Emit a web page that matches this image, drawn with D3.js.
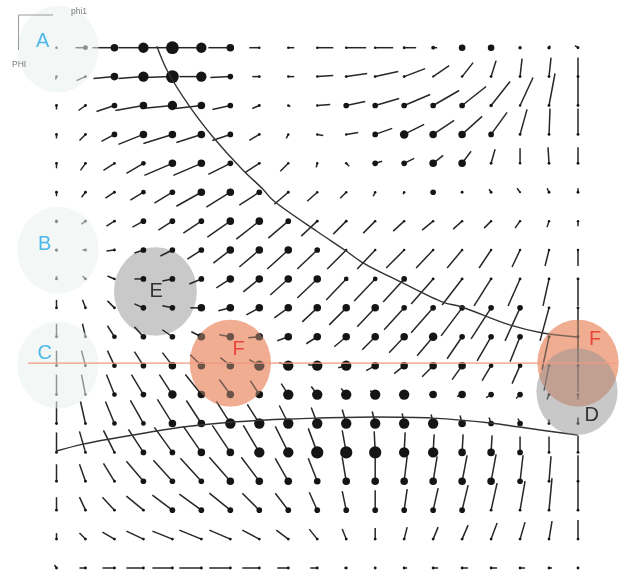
<!DOCTYPE html>
<html>
<head>
<meta charset="utf-8">
<script src="https://cdn.jsdelivr.net/npm/d3@7/dist/d3.min.js"></script>
<style>html,body{margin:0;padding:0;background:#fff}svg{display:block;filter:blur(0.4px)}text{font-family:"Liberation Sans",Arial,sans-serif}</style>
</head>
<body>
<div id="chart"></div>
<script>
// Grid axes in degrees
const phiTicks = d3.range(-180, 181, 20);
const psiTicks = d3.range(-180, 181, 20);

// Vector x components, one list per row
const uRows = [
[0,-10,-22,-25,-27,-25,-22,-10,6,16,20,18,12,4,0,0,0,1,-3],
[-1,-9,-21,-25,-28,-22,-20,-7,6,16,21,23,21,16,11,5,2,2,0],
[0,-7,-18,-28,-31,-26,-18,-7,2,13,19,24,26,26,24,19,13,6,0],
[0,-6,-13,-25,-29,-25,-18,-10,-2,6,12,17,20,21,20,16,7,1,0],
[0,-5,-11,-17,-28,-28,-22,-14,-8,-1,3,7,10,10,9,4,0,-1,0],
[0,-4,-9,-13,-18,-25,-24,-20,-14,-10,-6,-2,-1,0,0,-2,-3,-2,0],
[0,-4,-8,-11,-14,-18,-23,-23,-20,-16,-13,-12,-11,-11,-9,-7,-5,-2,0],
[0,-3,-8,-9,-12,-14,-17,-20,-21,-20,-19,-18,-18,-17,-15,-12,-8,-4,0],
[0,-3,-7,-9,-10,-12,-14,-16,-18,-20,-20,-21,-21,-22,-20,-17,-12,-6,0],
[0,-3,-7,-9,-10,-11,-12,-13,-14,-15,-17,-18,-20,-22,-21,-20,-15,-9,0],
[0,-3,-7,-9,-10,-10,-11,-11,-11,-11,-12,-13,-15,-16,-15,-14,-10,-7,0],
[0,-4,-7,-9,-10,-11,-10,-10,-9,-9,-8,-9,-10,-11,-10,-9,-8,-5,0],
[0,-4,-8,-12,-13,-16,-11,-9,-7,-6,-5,-5,-1,-4,-5,-5,-4,-2,0],
[0,-5,-9,-13,-15,-15,-14,-12,-9,-6,-4,-3,-2,-2,-2,-2,-2,0,0],
[0,-6,-11,-15,-18,-18,-18,-16,-13,-9,-4,-1,1,1,1,1,0,0,0],
[0,-6,-11,-17,-19,-21,-21,-18,-13,-9,-4,0,3,4,5,5,3,2,0],
[0,-6,-12,-17,-20,-22,-21,-17,-13,-8,-4,0,3,5,6,6,5,3,0],
[0,-6,-12,-17,-20,-22,-21,-17,-12,-8,-4,0,3,5,6,6,5,3,0],
[-2,-6,-12,-17,-20,-22,-21,-17,-11,-7,-2,0,3,5,6,6,5,3,0]
];

// Vector y components, one list per row
const vRows = [
[0,0,0,0,0,0,0,0,0,0,0,0,0,0,0,0,0,-2,-2],
[3,4,2,2,1,0,1,0,0,-1,-3,-5,-8,-11,-14,-16,-18,-19,-19],
[4,5,6,5,3,3,4,3,1,-1,-4,-7,-11,-15,-19,-24,-28,-32,-29],
[4,6,7,10,9,8,6,6,4,1,-2,-6,-10,-14,-18,-22,-25,-26,-26],
[5,7,7,10,12,12,11,9,8,4,3,-2,-5,-8,-12,-14,-15,-16,-16],
[4,5,6,8,11,14,15,13,12,9,6,4,2,0,0,-3,-4,-4,-4],
[2,3,5,6,9,12,16,18,17,15,13,12,10,9,8,7,7,6,5],
[0,0,1,3,6,9,13,17,19,19,19,19,18,18,18,18,17,16,16],
[-3,-3,-3,0,2,5,9,13,16,19,21,22,23,25,26,27,27,27,27],
[-8,-8,-7,-4,-2,0,3,7,10,14,17,19,22,25,28,31,33,33,29],
[-13,-13,-11,-10,-7,-5,-2,1,4,7,10,13,16,19,22,24,25,33,28],
[-15,-15,-15,-14,-13,-11,-8,-6,-3,-1,2,5,8,11,14,15,18,25,26],
[-20,-20,-20,-20,-20,-20,-15,-14,-11,-8,-6,-4,0,0,2,3,4,5,5],
[-22,-22,-22,-23,-24,-23,-22,-19,-18,-16,-14,-12,-10,-9,-8,-6,-5,-4,-6],
[-20,-21,-22,-23,-25,-26,-27,-27,-26,-24,-22,-21,-20,-18,-18,-17,-16,-16,-17],
[-17,-17,-18,-20,-21,-23,-24,-24,-23,-23,-24,-29,-25,-25,-26,-27,-26,-25,-26],
[-13,-13,-13,-14,-15,-16,-17,-17,-17,-18,-19,-20,-21,-22,-25,-27,-29,-32,-29],
[-6,-6,-7,-8,-8,-9,-9,-9,-9,-10,-10,-11,-12,-12,-14,-16,-17,-18,-19],
[-3,0,0,0,0,0,0,0,0,0,0,0,0,0,0,0,0,0,0]
];

// Dot sizes, one list per row
const dotRows = [
[0.8,2,3.5,5,6.3,5,3.5,0.8,0.8,0.8,0.8,0.8,1,1.5,3,3,1.3,1.3,1],
[0.8,1,3.5,5,6.3,5,2.5,1,0.8,0.8,1,1,1,0.6,0.8,1,1,1,1],
[1,1,2.5,3.5,4.5,3.5,2.5,1,0.8,0.8,2.5,2.5,2.5,2.5,2.5,1.3,0.8,1,1],
[1,1,2.5,3.5,3.5,3.5,2.5,1,0.8,0.8,0.8,2.5,4,3.5,3.5,2.5,1,1,1],
[1,1,1,2,3.5,3.5,2.5,1,0.8,0.8,0.8,2.5,2.5,3.5,3.5,1,0.8,1,1],
[1,1,1,2,2.5,3.5,3.5,2.5,1,0.8,0.8,0.8,0.8,2.5,1,1,0.6,1,1],
[1.2,1,1,2.5,2.5,2.5,3.5,3.5,2.5,1,1,0.8,0.8,0.8,0.8,0.8,0.8,0.8,0.8],
[1.2,1,1,2.5,2.5,2.5,3.5,3.5,3.5,2.5,0.8,0.8,0.8,0.8,0.8,0.8,0.8,0.8,0.8],
[1,1,0.8,2.5,2.5,2.5,3.5,3.5,3.5,3.5,2,2,2.5,1,1,1,1,1,1],
[1,1,1,2.5,2.5,3.5,3.5,3.5,3.5,3.5,3.5,3.5,2.5,2.5,2.5,2.5,2.5,1,1],
[1,1,2,2.5,2.5,3.5,3.5,3.5,3.5,3.5,3.5,3.5,3.5,4,2.5,2.5,2.5,1,1],
[1,1,2,2.5,3.5,3.5,3.5,5,5,5,5,3.5,3.5,3.5,3.5,2,2,1,1],
[1,1,2,2.5,4,3.5,3.5,3.5,5,5,5,5,5,3.5,3.5,2.5,2.5,1,1],
[1,1,2,2,3.5,3.5,5,5,5,5,5,5,5,5,3.5,2.5,2.5,1,1],
[1,1,1,2.5,2.5,3.5,3.5,5,5,6,6,6,5,5,3.5,3.5,2.5,1,1],
[1,1,1,2.5,2.5,2.5,3.5,3.5,3.5,3,3.5,3.5,3.5,3.5,3.5,3.5,2.5,1,1],
[1,1,1,1,2.5,2.5,2.5,2.5,2.5,2.5,2.5,2.5,2.5,2.5,2.5,1,1,1,1],
[1,1,1,1,1,1,1,1,1,1,1,1,1,1,1,1,1,1,1],
[1,1,1,1,1,1,1,1,1,1,1,1,1,1,1,1,1,1,1]
];

// Boundary curves in degrees
const upperPhi = [-110.7,-103.8,-87.9,-72,-51.4,-37.6,-30.7,-0.3,19,30.7,57.6,86.6,99.7,132.8,155.5,179.6];
const upperPsi = [-181,-164.6,-139,-118.2,-95.4,-82.2,-74.6,-53,-40,-31.7,-17.9,-4,-0.6,11.8,17.4,20.2];
const lowerPhi = [-180,-161.7,-127.2,-92.8,-60.3,-21,-0.3,39.7,79.7,119.7,139.7,179.7];
const lowerPsi = [99.1,94.3,88,82.5,79.1,77,76.3,75.6,76.3,79.7,82.5,88];

// Region labels and centres in degrees
const paleNames = ["A","B","C"];
const palePhi = [-179,-179,-179];
const palePsi = [-179,-40,39.6];
const greyNames = ["E"];
const greyPhi = [-111.7];
const greyPsi = [-11.3];
const redNames = ["F","F"];
const redPhi = [-60,180];
const redPsi = [38.2,38.2];
const topNames = ["D"];
const topPhi = [179.3];
const topPsi = [57.9];
const linePsi = 38.2;
const axisNames = ["phi1","PHI"];

const width = 627, height = 570;
const svg = d3.select("#chart").append("svg").attr("width", width).attr("height", height);

const x = d3.scaleLinear().domain([-180,180]).range([56.5,578]);
const y = d3.scaleLinear().domain([-180,180]).range([47.7,568]);
const vec = d3.scaleLinear().domain([0,29]).range([0,29]);
const dotR = d3.scaleLinear().domain([0.6,6.3]).range([1.05,6.4]);
const rx = d3.scaleLinear().domain([0,28]).range([0,40.6]);
const ry = d3.scaleLinear().domain([0,30]).range([0,43.4]);

const cells = [];
psiTicks.forEach((psi,i) => phiTicks.forEach((phi,j) => {
  cells.push({phi, psi, u:uRows[i][j], v:vRows[i][j], r:dotRows[i][j]});
}));

// white ground so the blur has a full backdrop
svg.append("rect").attr("width",width).attr("height",height).attr("fill","#fff");

// grey region under the marks
svg.append("g").selectAll("ellipse").data(greyNames).join("ellipse")
  .attr("cx",(d,i)=>x(greyPhi[i])).attr("cy",(d,i)=>y(greyPsi[i]))
  .attr("rx",rx(28.6)).attr("ry",ry(30.6)).attr("fill","#c9c9c9");

// red regions: base coat under the marks
const redEllipses = (fill, op) => svg.append("g").selectAll("ellipse").data(redNames).join("ellipse")
  .attr("cx",(d,i)=>x(redPhi[i])).attr("cy",(d,i)=>y(redPsi[i]))
  .attr("rx",rx(28)).attr("ry",ry(30)).attr("fill",fill).attr("fill-opacity",op);
redEllipses("#f6a890",1);

const marks = svg.append("g");
marks.selectAll("line").data(cells).join("line")
  .attr("x1",d=>x(d.phi)).attr("y1",d=>y(d.psi))
  .attr("x2",d=>x(d.phi)+vec(d.u)).attr("y2",d=>y(d.psi)+vec(d.v))
  .attr("stroke","#262626").attr("stroke-width",1.5);
marks.selectAll("circle").data(cells).join("circle")
  .attr("cx",d=>x(d.phi)).attr("cy",d=>y(d.psi)).attr("r",d=>dotR(d.r)).attr("fill","#151515");

// curves
const line = d3.line().x(d=>x(d[0])).y(d=>y(d[1])).curve(d3.curveCatmullRom);
svg.append("path").attr("d",line(d3.zip(upperPhi,upperPsi))).attr("fill","none").attr("stroke","#333").attr("stroke-width",1.4);
svg.append("path").attr("d",line(d3.zip(lowerPhi,lowerPsi))).attr("fill","none").attr("stroke","#333").attr("stroke-width",1.5);

// pale regions
svg.append("g").selectAll("ellipse").data(paleNames).join("ellipse")
  .attr("cx",(d,i)=>x(palePhi[i])).attr("cy",(d,i)=>y(palePsi[i]))
  .attr("rx",rx(28)).attr("ry",ry(30)).attr("fill","#e9f0ed").attr("fill-opacity",0.55);

// red regions: veil over the marks
redEllipses("#ecb594",0.4);

// grey region D above
svg.append("g").selectAll("ellipse").data(topNames).join("ellipse")
  .attr("cx",(d,i)=>x(topPhi[i])).attr("cy",(d,i)=>y(topPsi[i]))
  .attr("rx",rx(28)).attr("ry",ry(30)).attr("fill","#919191").attr("fill-opacity",0.5);

// reference line
svg.append("line").attr("x1",28).attr("x2",615).attr("y1",y(linePsi)).attr("y2",y(linePsi))
  .attr("stroke","#f09a80").attr("stroke-width",1.2);

// axis key
svg.append("path").attr("d",d3.line()([[53,15],[18.5,15],[18.5,50]])).attr("fill","none").attr("stroke","#9a9a9a").attr("stroke-width",1);
svg.append("text").text(axisNames[0]).attr("x",71).attr("y",14).attr("font-size",8.5).attr("fill","#7d7d7d");
svg.append("text").text(axisNames[1]).attr("x",12).attr("y",67).attr("font-size",8.5).attr("fill","#7d7d7d");

// labels
const lab = (sel,xs,ys,col) => sel.join("text").text(d=>d).attr("font-size",20).attr("fill",col)
  .attr("x",(d,i)=>xs[i]).attr("y",(d,i)=>ys[i]);
lab(svg.append("g").selectAll("text").data(paleNames),[36,38,37.5],[47,249.5,359],"#4cb9e8");
lab(svg.append("g").selectAll("text").data(greyNames),[149.5],[297],"#333");
lab(svg.append("g").selectAll("text").data(redNames),[232.5,589],[355,345],"#e8453a");
lab(svg.append("g").selectAll("text").data(topNames),[584.5],[421],"#333");
</script>
</body>
</html>
